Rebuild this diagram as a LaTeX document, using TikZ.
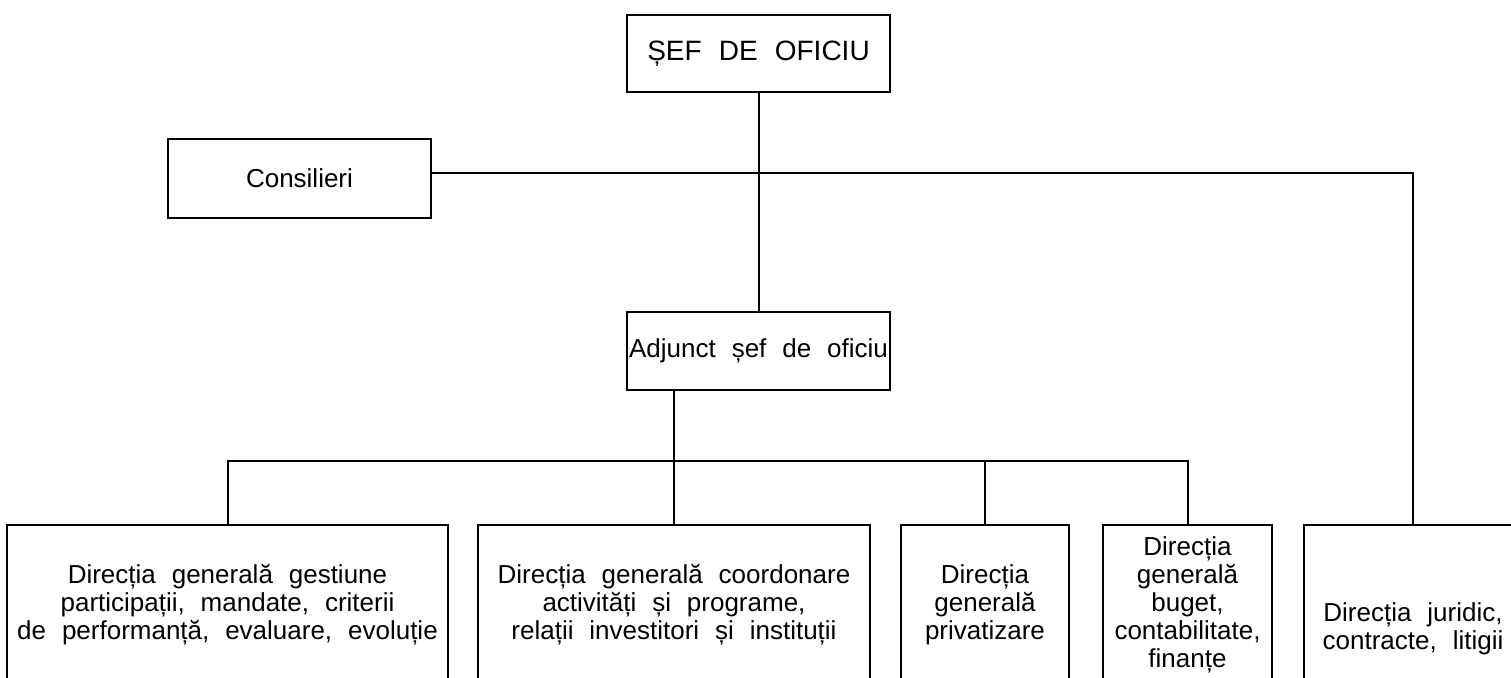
\documentclass[tikz,border=0pt]{standalone}
\usepackage{fontspec}
\setmainfont{Liberation Sans}[WordSpace=2.2]
\usetikzlibrary{calc}
\begin{document}
\begin{tikzpicture}[x=0.5pt,y=-0.5pt,
  box/.style={draw,line width=1pt,rectangle,inner sep=0pt,align=center,font=\fontsize{13}{14}\selectfont},
  link/.style={line width=1pt}]
\useasboundingbox (0,0) rectangle (1511,677);
\clip (0,0) rectangle (1511,677);
\node[box,minimum width=131.5pt,minimum height=38.5pt,font=\fontsize{14}{15}\selectfont] (sef) at (758.5,53.5) {ȘEF DE OFICIU};
\node[box,minimum width=131.5pt,minimum height=39.5pt] (cons) at (299.5,178.5) {Consilieri};
\node[box,minimum width=131.5pt,minimum height=39pt] (adj) at (758.5,351) {Adjunct șef de oficiu};
\node[box,minimum width=220.5pt,minimum height=80pt] (b1) at (227.5,605) {Direcția generală gestiune\\participații, mandate, criterii\\de performanță, evaluare, evoluție};
\node[box,minimum width=196pt,minimum height=80pt] (b2) at (674,605) {Direcția generală coordonare\\activități și programe,\\relații investitori și instituții};
\node[box,minimum width=84pt,minimum height=80pt] (b3) at (985,605) {Direcția\\generală\\privatizare};
\node[box,minimum width=84.5pt,minimum height=80pt] (b4) at (1187.5,605) {Direcția\\generală\\buget,\\contabilitate,\\finanțe};
\node[box,minimum width=109pt,minimum height=104pt] (b5) at (1413,629) {Direcția juridic,\\contracte, litigii};
\coordinate (bus) at (674,461);
\draw[link] (sef.south) -- (adj.north);
\draw[link] ([yshift=3pt]cons.east) -| (b5.north);
\draw[link] (adj.south -| b2.north) -- (b2.north);
\draw[link] (b1.north) -- (b1.north |- bus) -- (b4.north |- bus) -- (b4.north);
\draw[link] (b3.north) -- (b3.north |- bus);
\end{tikzpicture}
\end{document}
